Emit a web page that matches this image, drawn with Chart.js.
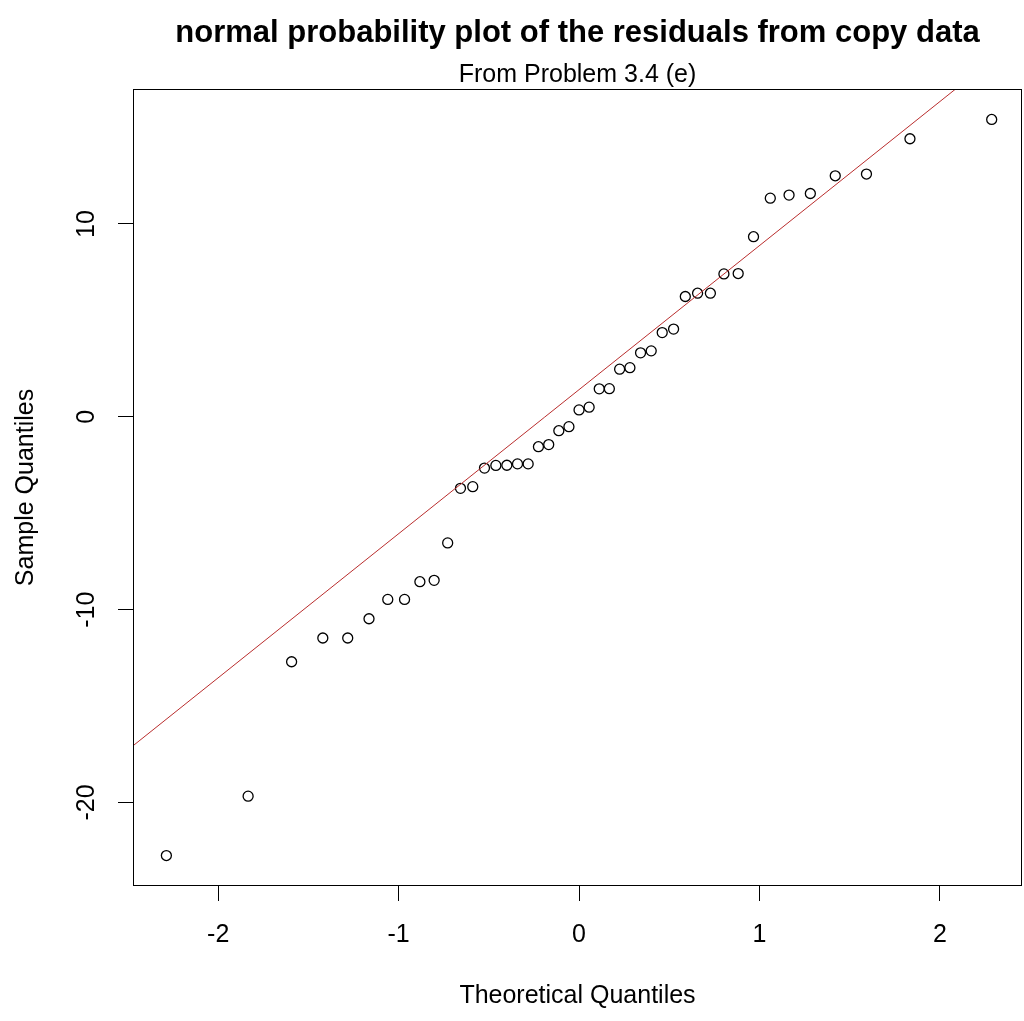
<!DOCTYPE html>
<html>
<head>
<meta charset="utf-8">
<script src="https://cdn.jsdelivr.net/npm/chart.js@4.4.1/dist/chart.umd.min.js"></script>
<style>
  html, body { margin: 0; padding: 0; background: #fff; }
  canvas { display: block; }
</style>
</head>
<body>
<canvas id="grafico" width="1024" height="1021"></canvas>
<script>
// cuantiles teóricos (eje x) y residuos ordenados (eje y)
const theoreticalQ = [
  -2.287, -1.834, -1.593, -1.420, -1.282, -1.164, -1.060, -0.967, -0.882, -0.803,
  -0.728, -0.657, -0.589, -0.524, -0.461, -0.400, -0.341, -0.282, -0.225, -0.168,
  -0.112, -0.056, 0, 0.056, 0.112, 0.168, 0.225, 0.282, 0.341, 0.400,
  0.461, 0.524, 0.589, 0.657, 0.728, 0.803, 0.882, 0.967, 1.060, 1.164,
  1.282, 1.420, 1.593, 1.834, 2.287
];
const sampleQ = [
  -22.75, -19.67, -12.70, -11.47, -11.47, -10.47, -9.47, -9.47, -8.55, -8.48,
  -6.54, -3.71, -3.62, -2.66, -2.52, -2.51, -2.44, -2.44, -1.55, -1.44,
  -0.72, -0.51, 0.36, 0.50, 1.45, 1.46, 2.47, 2.55, 3.32, 3.42,
  4.37, 4.55, 6.24, 6.41, 6.41, 7.41, 7.43, 9.34, 11.34, 11.50,
  11.58, 12.50, 12.59, 14.42, 15.42
];
// extremos visibles de la recta qqline
const lineX = [-2.472, 2.087];
const lineY = [-17.06, 17.0];

const xTicks = [-2, -1, 0, 1, 2];
const yTicks = [-20, -10, 0, 10];
const xRange = [-2.472, 2.455];
const yRange = [-24.33, 17.0];

const mainTitle = "normal probability plot of the residuals from copy data";
const subTitle = "From Problem 3.4 (e)";
const xLabel = "Theoretical Quantiles";
const yLabel = "Sample Quantiles";

const family = "'Liberation Sans', Arial, sans-serif";

const plotBox = {
  id: "plotBox",
  afterDraw(chart) {
    const { ctx, chartArea: a } = chart;
    ctx.save();
    ctx.strokeStyle = "#000";
    ctx.lineWidth = 1;
    ctx.strokeRect(a.left + 0.5, a.top + 0.5, a.right - a.left - 1, a.bottom - a.top - 1);
    ctx.restore();
  }
};

const points = theoreticalQ.map((x, i) => ({ x: x, y: sampleQ[i] }));
const refLine = lineX.map((x, i) => ({ x: x, y: lineY[i] }));

const ctx = document.getElementById("grafico").getContext("2d");
new Chart(ctx, {
  type: "scatter",
  data: {
    datasets: [
      {
        data: refLine,
        showLine: true,
        borderColor: "rgb(185, 45, 45)",
        borderWidth: 1,
        pointRadius: 0,
        fill: false
      },
      {
        data: points,
        pointStyle: "circle",
        pointRadius: 5,
        pointBorderWidth: 1.3,
        pointBorderColor: "#000",
        pointBackgroundColor: "rgba(0,0,0,0)"
      }
    ]
  },
  options: {
    responsive: false,
    animation: false,
    layout: { autoPadding: false, padding: { top: 0, left: 0, right: 2, bottom: 0 } },
    plugins: {
      legend: { display: false },
      tooltip: { enabled: false },
      title: {
        display: true,
        text: mainTitle,
        fullSize: false,
        color: "#000",
        font: { family: family, size: 31, weight: "bold" },
        padding: { top: 14.4, bottom: 0 }
      },
      subtitle: {
        display: true,
        text: subTitle,
        fullSize: false,
        color: "#000",
        font: { family: family, size: 25, lineHeight: 1.1 },
        padding: { top: 9.65, bottom: 0.25 }
      }
    },
    scales: {
      x: {
        type: "linear",
        min: xRange[0],
        max: xRange[1],
        afterBuildTicks: s => { s.ticks = xTicks.map(v => ({ value: v })); },
        afterFit: s => { s.height = 135; s.paddingLeft = 0; s.paddingRight = 0; },
        border: { display: false },
        grid: { drawOnChartArea: false, drawTicks: true, tickLength: 15, color: "#000", lineWidth: 1 },
        ticks: { color: "#000", font: { family: family, size: 25 }, padding: 19, maxRotation: 0, autoSkip: false },
        title: { display: true, text: xLabel, color: "#000", font: { family: family, size: 25 }, padding: { top: 0, bottom: 10 } }
      },
      y: {
        type: "linear",
        min: yRange[0],
        max: yRange[1],
        afterBuildTicks: s => { s.ticks = yTicks.map(v => ({ value: v })); },
        afterFit: s => { s.width = 133; s.paddingTop = 0; s.paddingBottom = 0; },
        border: { display: false },
        grid: { drawOnChartArea: false, drawTicks: true, tickLength: 15, color: "#000", lineWidth: 1 },
        ticks: { color: "#000", font: { family: family, size: 25 }, padding: 12.6, minRotation: 90, maxRotation: 90, crossAlign: "center", autoSkip: false },
        title: { display: true, text: yLabel, color: "#000", font: { family: family, size: 25 }, padding: { top: 11, bottom: 0 } }
      }
    }
  },
  plugins: [plotBox]
});
</script>
</body>
</html>
